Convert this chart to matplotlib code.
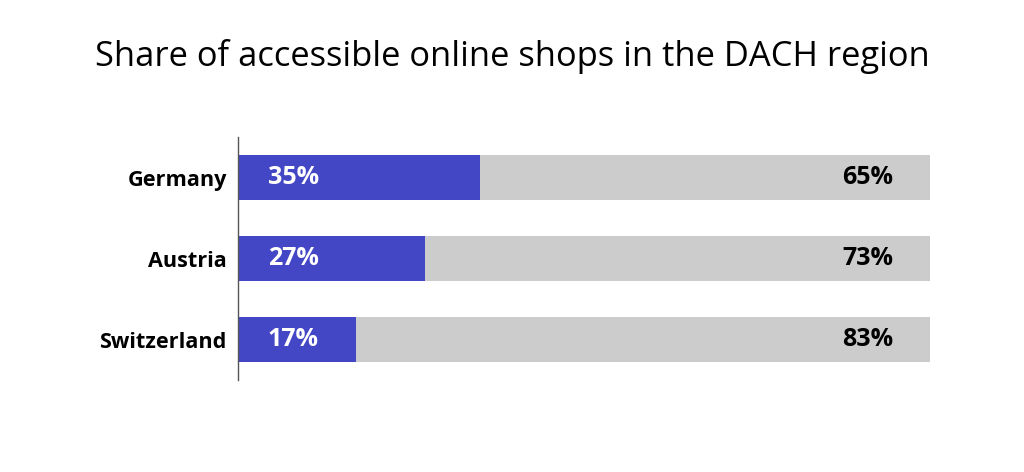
import matplotlib
matplotlib.use("Agg")
import matplotlib.pyplot as plt

countries = ["Germany", "Austria", "Switzerland"]
accessible = [35, 27, 17]
not_accessible = [65, 73, 83]

BLUE = "#4347c6"
GRAY = "#cccccc"

plt.rcParams["font.family"] = ["Open Sans", "DejaVu Sans"]

fig = plt.figure(figsize=(10.24, 4.72), dpi=100)
ax = fig.add_axes([0.2324, 0.1949, 0.6758, 0.5148])

y = range(len(countries))
ax.barh(y, accessible, height=0.556, color=BLUE)
ax.barh(y, not_accessible, left=accessible, height=0.556, color=GRAY)

for i, (a, b) in enumerate(zip(accessible, not_accessible)):
    ax.text(4.3, i, f"{a}%", color="white", fontsize=18, fontweight="bold",
            va="center", ha="left")
    ax.text(94.7, i, f"{b}%", color="black", fontsize=18, fontweight="bold",
            va="center", ha="right")

ax.set_xlim(0, 100)
ax.set_ylim(2.5, -0.5)
ax.set_yticks(list(y))
ax.set_yticklabels(countries, fontsize=15.6, fontweight="bold")
ax.tick_params(axis="y", length=0, pad=8)
ax.set_xticks([])
for side in ["top", "right", "bottom"]:
    ax.spines[side].set_visible(False)
ax.spines["left"].set_color("#555555")
ax.spines["left"].set_linewidth(1)

fig.text(0.5, 0.880, "Share of accessible online shops in the DACH region",
         ha="center", va="center", fontsize=24.8)

fig.savefig("out.png", dpi=100, facecolor="white")
